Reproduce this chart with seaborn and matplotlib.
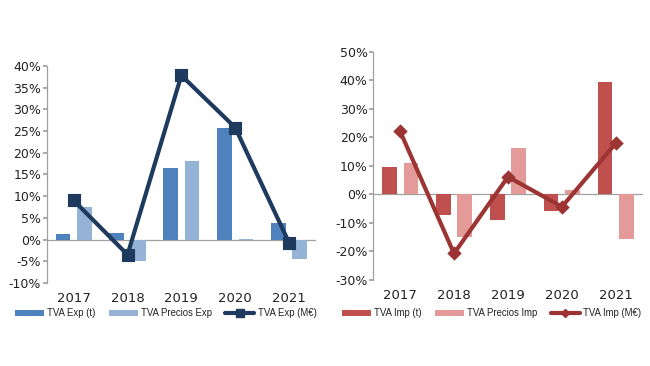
import matplotlib
matplotlib.use("Agg")
import matplotlib.pyplot as plt
import seaborn as sns
import pandas as pd
from matplotlib.patches import Patch
from matplotlib.lines import Line2D
from matplotlib.ticker import FuncFormatter, MultipleLocator

years = ["2017", "2018", "2019", "2020", "2021"]

exp_t = [1.3, 1.6, 16.5, 25.7, 3.8]
exp_precios = [7.5, -5.0, 18.2, 0.2, -4.4]
exp_meur = [9.0, -3.5, 37.8, 25.8, -0.7]

imp_t = [9.8, -7.3, -9.0, -5.8, 39.5]
imp_precios = [11.2, -15.0, 16.3, 1.7, -15.6]
imp_meur = [22.2, -20.7, 6.2, -4.3, 18.0]

exp_labels = ["TVA Exp (t)", "TVA Precios Exp", "TVA Exp (M€)"]
imp_labels = ["TVA Imp (t)", "TVA Precios Imp", "TVA Imp (M€)"]

exp_colors = ["#4f81bd", "#95b3d7", "#1f3a5f"]
imp_colors = ["#c0504d", "#e39a98", "#9b3432"]

sns.set_theme(style="white")
plt.rcParams["font.family"] = ["DejaVu Sans"]

fig = plt.figure(figsize=(6.5, 3.66), dpi=100)
axL = fig.add_axes([0.072, 0.227, 0.414, 0.593])
axR = fig.add_axes([0.574, 0.235, 0.415, 0.623])


def draw(ax, t, precios, meur, labels, colors, ylim, step, marker, msize,
         legx):
    df = pd.DataFrame({
        "year": years * 2,
        "value": t + precios,
        "series": [labels[0]] * len(years) + [labels[1]] * len(years),
    })
    sns.barplot(data=df, x="year", y="value", hue="series",
                palette=colors[:2], ax=ax, width=0.8, gap=0.32,
                saturation=1, legend=False, linewidth=0)
    sns.pointplot(x=years, y=meur, color=colors[2], markers=marker,
                  markersize=msize, linewidth=3, ax=ax)
    ax.set_ylim(*ylim)
    ax.set_xlim(-0.5, 4.5)
    ax.yaxis.set_major_locator(MultipleLocator(step))
    ax.yaxis.set_major_formatter(FuncFormatter(lambda v, p: f"{v:.0f}%"))
    ax.axhline(0, color="#a0a0a0", linewidth=0.9, zorder=0.5)
    for s in ["top", "right", "bottom"]:
        ax.spines[s].set_visible(False)
    ax.spines["left"].set_color("#a0a0a0")
    ax.spines["left"].set_linewidth(0.9)
    ax.tick_params(axis="y", left=True, length=3, color="#a0a0a0",
                   labelsize=9, labelcolor="#222222", pad=1)
    ax.tick_params(axis="x", bottom=False, labelsize=9.5,
                   labelcolor="#222222", pad=0.5)
    ax.set_xlabel("")
    ax.set_ylabel("")
    handles = [
        Patch(facecolor=colors[0], edgecolor="none"),
        Patch(facecolor=colors[1], edgecolor="none"),
        Line2D([0], [0], color=colors[2], linewidth=3, marker=marker,
               markersize=msize * 0.8),
    ]
    fig.legend(handles, labels, loc="upper left",
               bbox_to_anchor=(legx, 1 - 308 / 366),
               bbox_transform=fig.transFigure,
               ncol=3, frameon=False,
               prop={"family": "Liberation Sans", "size": 6.9},
               handlelength=3.0, handleheight=0.6,
               columnspacing=1.4, handletextpad=0.35, labelcolor="#222222",
               borderaxespad=0, borderpad=0)


draw(axL, exp_t, exp_precios, exp_meur, exp_labels, exp_colors,
     (-10, 40), 5, "s", 7, 15 / 650)
draw(axR, imp_t, imp_precios, imp_meur, imp_labels, imp_colors,
     (-30, 50), 10, "D", 5.5, 342 / 650)

fig.savefig("out.png", dpi=100, facecolor="white")
